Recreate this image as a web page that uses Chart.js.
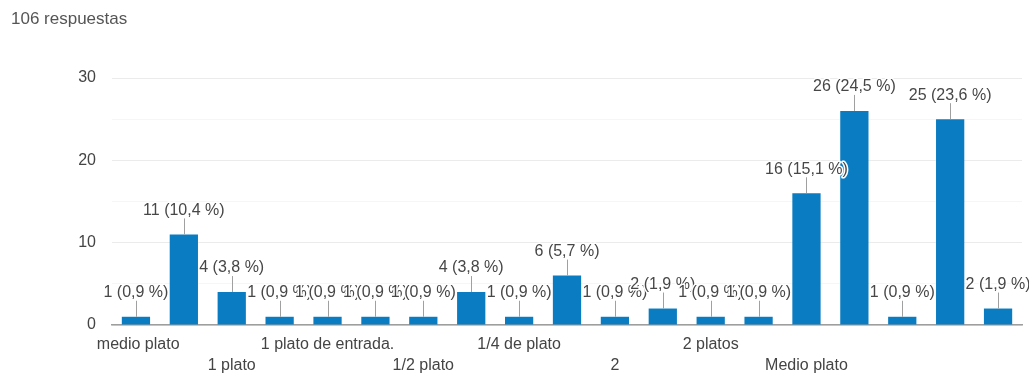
<!DOCTYPE html>
<html lang="es">
<head>
<meta charset="utf-8">
<title>106 respuestas</title>
<script src="https://cdn.jsdelivr.net/npm/chart.js@4/dist/chart.umd.min.js"></script>
<style>
  html, body { margin: 0; padding: 0; background: #fff; }
  #wrap { position: relative; width: 1029px; height: 375px; }
  #total { position: absolute; left: 11px; top: 9px; font: 17px "Liberation Sans", Arial, sans-serif; color: #555; }
  canvas { position: absolute; left: 0; top: 0; }
</style>
</head>
<body>
<div id="wrap">
  <canvas id="chart" width="1029" height="375"></canvas>
  <div id="total">106 respuestas</div>
</div>
<script>
// Answers, in the order the form lists them (empty = label not shown on the axis)
const categories = [
  ' medio plato', '', '1 plato', '', '1 plato de entrada.', '', '1/2 plato', '',
  '1/4 de plato', '', '2', '', '2 platos', '', 'Medio plato', '', '', '', ''
];
// Number of responses per answer
const counts = [1, 11, 4, 1, 1, 1, 1, 4, 1, 6, 1, 2, 1, 1, 16, 26, 1, 25, 2];
const totalResponses = 106;
const yTicks = [0, 10, 20, 30];

const FONT = '"Liberation Sans", Arial, sans-serif';
const BAR_COLOR = '#0a7cc1';

function pctLabel(v) {
  const p = (v / totalResponses * 100).toFixed(1).replace('.', ',');
  return v + ' (' + p + ' %)';
}

// Value annotations with a short stem above each bar
const annotations = {
  id: 'annotations',
  afterDatasetsDraw(chart) {
    const ctx = chart.ctx;
    const meta = chart.getDatasetMeta(0);
    ctx.save();
    ctx.font = '16px ' + FONT;
    ctx.textAlign = 'center';
    ctx.textBaseline = 'middle';
    ctx.lineJoin = 'round';
    meta.data.forEach((bar, i) => {
      const x = Math.round(bar.x) + 0.5;
      const top = bar.y;
      ctx.strokeStyle = '#a0a0a0';
      ctx.lineWidth = 1;
      ctx.beginPath();
      ctx.moveTo(x, top);
      ctx.lineTo(x, top - 16);
      ctx.stroke();
      const text = pctLabel(counts[i]);
      const ty = top - 24;
      ctx.strokeStyle = '#ffffff';
      ctx.lineWidth = 3;
      ctx.strokeText(text, bar.x, ty);
      ctx.fillStyle = '#474747';
      ctx.fillText(text, bar.x, ty);
    });
    ctx.restore();
  }
};

new Chart(document.getElementById('chart'), {
  type: 'bar',
  data: {
    labels: categories,
    datasets: [{
      data: counts,
      backgroundColor: BAR_COLOR,
      borderWidth: 0,
      barPercentage: 0.59,
      categoryPercentage: 1.0
    }]
  },
  options: {
    responsive: false,
    animation: false,
    layout: { padding: { top: 78, right: 7, bottom: 0, left: 0 } },
    plugins: {
      legend: { display: false },
      tooltip: { enabled: false }
    },
    scales: {
      x: {
        grid: { display: false, drawTicks: false },
        border: { display: true, color: '#9e9e9e', width: 1.5 },
        ticks: {
          autoSkip: false,
          maxRotation: 0,
          minRotation: 0,
          padding: 9,
          color: '#444',
          font: { family: FONT, size: 16, lineHeight: '21px' },
          callback: function (value, index) {
            const lab = categories[index];
            if (!lab) return '';
            return (index / 2) % 2 === 0 ? lab : ['', lab];
          }
        },
        afterFit(scale) { scale.height = 50; }
      },
      y: {
        min: 0,
        max: 30,
        grid: {
          drawTicks: false,
          color: (c) => (c.tick && yTicks.includes(c.tick.value)) ? '#ebebeb' : '#f6f6f6',
          lineWidth: 1
        },
        border: { display: false },
        ticks: {
          stepSize: 5,
          padding: 16,
          color: '#444',
          font: { family: FONT, size: 16 },
          callback: (v) => yTicks.includes(v) ? String(v) : ''
        },
        afterFit(scale) { scale.width = 112; }
      }
    }
  },
  plugins: [annotations]
});
</script>
</body>
</html>
